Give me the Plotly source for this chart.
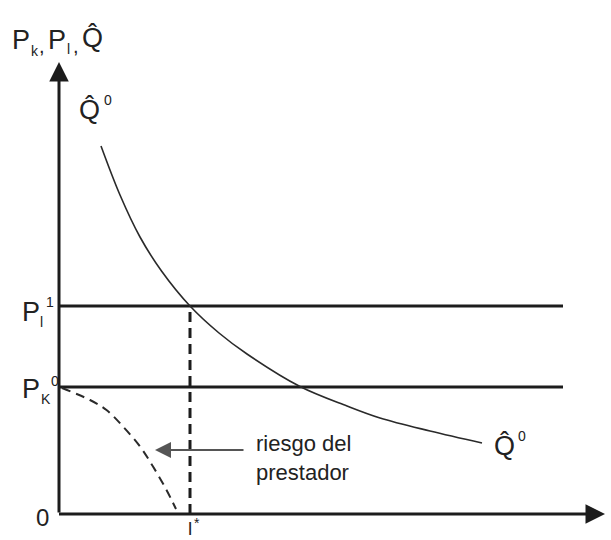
import plotly.graph_objects as go

# ---------------- data (chart units; origin at the axes corner) ----------------
Q0_x = [0.84, 1.22, 1.62, 2.05, 2.62, 3.20, 3.76, 4.82, 5.76, 6.42, 7.42, 8.46]
Q0_y = [7.36, 6.38, 5.54, 4.86, 4.16, 3.62, 3.20, 2.55, 2.16, 1.92, 1.66, 1.42]

RISK_x = [0.06, 0.62, 0.95, 1.28, 1.62, 1.88, 2.15, 2.34]
RISK_y = [2.52, 2.28, 2.08, 1.75, 1.35, 0.95, 0.48, 0.10]

P_L1 = 4.16          # P_l^1 level
P_K0 = 2.54          # P_K^0 level
L_STAR = 2.62        # l*
H_LINE_END = 10.08   # right end of the two price lines
X_AXIS_END = 10.92
Y_AXIS_END = 9.04
ARROW_Y = 1.28       # "riesgo del prestador" pointer
ARROW_TAIL_X = 3.72
ARROW_TIP_X = 1.92

# ---------------- figure ----------------
W, H = 611, 540
OX, OY, K = 59, 514, 50.0   # pixel position of origin, pixels per unit
XR = [-OX / K, (W - OX) / K]
YR = [(OY - H) / K, OY / K]

def X(px):
    return (px - OX) / K

def Y(py):
    return (OY - py) / K

INK = "#1c1c1c"
fig = go.Figure()

# horizontal price lines
for lvl in (P_L1, P_K0):
    fig.add_trace(go.Scatter(x=[0, H_LINE_END], y=[lvl, lvl], mode="lines",
                             line=dict(color=INK, width=3), hoverinfo="skip"))

# Q^0 curve
fig.add_trace(go.Scatter(x=Q0_x, y=Q0_y, mode="lines",
                         line=dict(color="#2a2a2a", width=1.6, shape="spline", smoothing=1.0),
                         hoverinfo="skip"))

# dashed vertical at l*
fig.add_trace(go.Scatter(x=[L_STAR, L_STAR], y=[0, P_L1], mode="lines",
                         line=dict(color=INK, width=3, dash="10px,6px"), hoverinfo="skip"))

# dashed risk curve
fig.add_trace(go.Scatter(x=RISK_x, y=RISK_y, mode="lines",
                         line=dict(color="#2a2a2a", width=2, dash="9px,6px", shape="spline"),
                         hoverinfo="skip"))

anns = []
# axes with arrowheads
anns.append(dict(x=0, y=Y_AXIS_END, ax=0, ay=0, xref="x", yref="y", axref="x", ayref="y",
                 text="", showarrow=True, arrowhead=2, arrowsize=1.3, arrowwidth=3,
                 arrowcolor=INK))
anns.append(dict(x=X_AXIS_END, y=0, ax=-0.03, ay=0, xref="x", yref="y", axref="x", ayref="y",
                 text="", showarrow=True, arrowhead=2, arrowsize=1.3, arrowwidth=3,
                 arrowcolor=INK))
# risk pointer arrow
anns.append(dict(x=ARROW_TIP_X, y=ARROW_Y, ax=ARROW_TAIL_X, ay=ARROW_Y, xref="x", yref="y",
                 axref="x", ayref="y", text="", showarrow=True, arrowhead=2, arrowsize=1.6,
                 arrowwidth=2, arrowcolor="#555555"))

FONT = "Liberation Sans, Arial, sans-serif"
BIG = 27
SMALL = 14
QHAT = "Q\u0302"

def label(text, px, py, size=BIG, xa="left", ya="middle", color="#222222"):
    anns.append(dict(x=X(px), y=Y(py), xref="x", yref="y", text=text, showarrow=False,
                     xanchor=xa, yanchor=ya, font=dict(family=FONT, size=size, color=color)))

# top axis label  P_k, P_l, Q^
label("P", 10, 40)
label("k", 29, 51, size=SMALL)
label(",", 37, 46, size=20)
label("P", 46, 40)
label("l", 65, 49, size=SMALL)
label(",", 71, 46, size=20)
label(QHAT, 80, 38)

# Q^0 label (top)
label(QHAT, 77, 110)
label("0", 102, 100, size=SMALL)

# Q^0 label (bottom right)
label(QHAT, 492, 446)
label("0", 516, 436, size=SMALL)

# P_l^1
label("P", 20, 312)
label("l", 38, 322, size=SMALL)
label("1", 44, 302, size=SMALL)

# P_K^0
label("P", 20, 389)
label("K", 39, 399, size=SMALL)
label("0", 49, 381, size=SMALL)

# origin and l*
label("0", 34, 517, size=24)
label("l", 186, 528, size=19)
label("*", 192, 523, size=14)

# riesgo del prestador
anns.append(dict(x=X(254), y=Y(458), xref="x", yref="y", showarrow=False, align="left",
                 text="riesgo del<br>prestador", xanchor="left", yanchor="middle",
                 font=dict(family=FONT, size=22, color="#222222")))

fig.update_layout(
    width=W, height=H, margin=dict(l=0, r=0, t=0, b=0),
    paper_bgcolor="white", plot_bgcolor="white", showlegend=False,
    xaxis=dict(range=XR, visible=False, fixedrange=True),
    yaxis=dict(range=YR, visible=False, fixedrange=True),
    annotations=anns,
)

fig.write_html("out.html", config={"displayModeBar": False},
               post_script="document.body.style.margin='0';document.body.style.overflow='hidden';")
